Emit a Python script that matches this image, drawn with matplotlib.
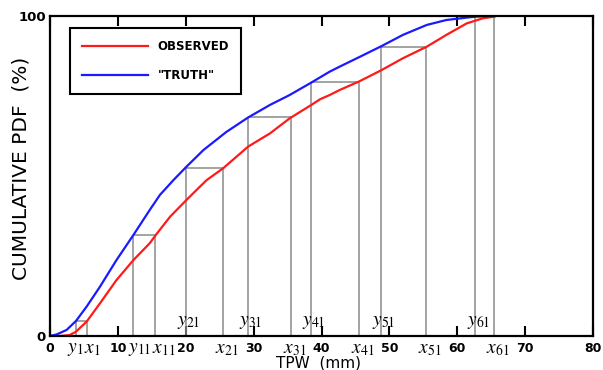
import matplotlib
matplotlib.use("Agg")
import matplotlib.pyplot as plt

plt.rcParams['font.family'] = ['DejaVu Sans']
plt.rcParams['mathtext.fontset'] = 'stix'

# 累积分布曲线
obs_x = [0, 1.5, 2.9, 3.8, 5.4, 7.36, 9.8, 12.3, 14.7, 15.6, 17.7, 20.1, 22.1,
         23.1, 25.5, 29.2, 32.4, 35.3, 38.5, 39.8, 41.2, 42.7, 45.5, 48.85,
         52.0, 55.5, 58.4, 61.4, 63.8, 65.5]
obs_y = [0, 0, 0.3, 1.3, 4.5, 10.2, 17.5, 23.75, 29, 31.6, 37.3, 42.5, 46.7,
         48.75, 52.4, 59.2, 63.3, 68.0, 72.2, 74.0, 75.3, 76.9, 79.5, 83.1,
         86.8, 90.4, 94.1, 97.7, 99.3, 99.8]

truth_x = [0, 1.0, 2.45, 3.83, 5.4, 7.36, 9.8, 12.3, 14.7, 16.2, 18.2, 20.1,
           22.6, 26.0, 29.2, 32.4, 35.3, 38.5, 41.2, 42.7, 45.7, 48.85, 52.0,
           55.5, 58.4, 61.4, 62.8, 65.5]
truth_y = [0, 0.5, 1.9, 4.7, 9.2, 15.4, 23.75, 31.6, 39.4, 44.1, 48.75, 52.9,
           58.1, 63.8, 68.3, 72.2, 75.3, 79.2, 82.6, 84.2, 87.3, 90.6, 94.1,
           97.2, 98.75, 99.5, 99.8, 100]

# 分位点映射: truth 值 y_i -> observed 值 x_i
map_levels = [4.7, 31.6, 52.6, 68.3, 79.3, 90.4, 100]
map_y = [3.8, 12.3, 20.0, 29.1, 38.4, 48.7, 62.6]
map_x = [5.5, 15.5, 25.5, 35.5, 45.5, 55.4, 65.4]
map_idx = ['1', '11', '21', '31', '41', '51', '61']
y_label_above = [False, False, True, True, True, True, True]

fig = plt.figure(figsize=(6.03, 3.70), dpi=100)
ax = fig.add_axes([50 / 603, 1 - 336 / 370, 543 / 603, 320 / 370])

# 灰色辅助线
ax.vlines(map_y, 0, map_levels, color='#8a8a8a', lw=1.1)
ax.vlines(map_x, 0, map_levels, color='#8a8a8a', lw=1.1)
ax.hlines(map_levels, map_y, map_x, color='#8a8a8a', lw=1.1)

ax.plot(obs_x, obs_y, color='#ff1a1a', lw=1.6, label='OBSERVED')
ax.plot(truth_x, truth_y, color='#1a1aff', lw=1.6, label='"TRUTH"')

ax.set_xlim(0, 80)
ax.set_ylim(0, 100)
ax.set_xticks(range(0, 81, 10))
ax.set_yticks([0, 100])
ax.tick_params(axis='x', direction='in', top=True, length=7, width=1.5,
               labelsize=9, pad=4)
ax.tick_params(axis='y', length=0, labelsize=9.5, pad=3)
for lab in ax.get_xticklabels() + ax.get_yticklabels():
    lab.set_fontweight('bold')
for s in ax.spines.values():
    s.set_linewidth(1.6)

ax.set_xlabel('TPW  (mm)', fontsize=11)
ax.xaxis.set_label_coords(0.494, -0.062)
ax.set_ylabel('CUMULATIVE PDF  (%)', fontsize=14.5)
ax.yaxis.set_label_coords(-0.035, 0.525)

# 斜体标注 (字母对准竖线, 下标向右伸出)
trans = ax.get_xaxis_transform()
for i, (yv, xv, idx, above) in enumerate(zip(map_y, map_x, map_idx, y_label_above)):
    dy = -0.15 if i == 0 else (0.9 if i == 1 else 0.5)
    dx = 0.7 if i == 0 else (1.2 if i == 1 else 0.6)
    if above:
        ax.text(yv + dy, 0.015, f'$y_{{{idx}}}$', transform=trans,
                ha='center', va='bottom', fontsize=14)
    else:
        ax.text(yv + dy, -0.01, f'$y_{{{idx}}}$', transform=trans,
                ha='center', va='top', fontsize=14)
    ax.text(xv + dx, -0.01, f'$x_{{{idx}}}$', transform=trans,
            ha='center', va='top', fontsize=14)

leg = ax.legend(loc='upper left', bbox_to_anchor=(0.037, 0.962),
                borderaxespad=0, handlelength=5.6, handletextpad=0.8,
                labelspacing=1.4, borderpad=1.0, fancybox=False, framealpha=1,
                prop={'weight': 'bold', 'size': 8.5})
leg.get_frame().set_edgecolor('black')
leg.get_frame().set_linewidth(1.5)

fig.savefig('out.png', dpi=100)
